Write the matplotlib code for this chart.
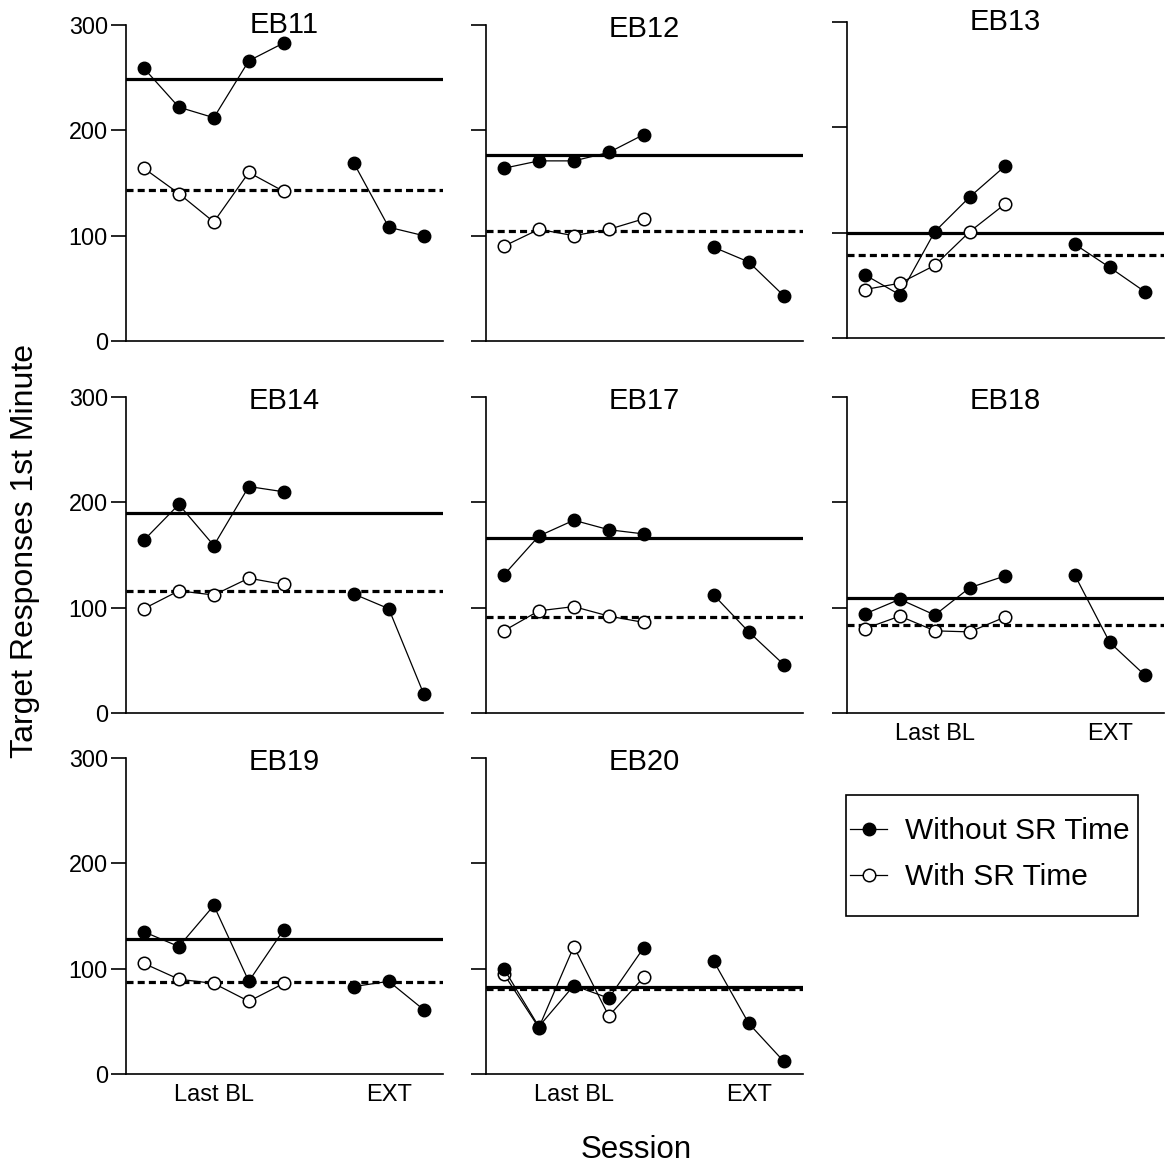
import matplotlib
matplotlib.use('Agg')
import matplotlib.pyplot as plt
from matplotlib.lines import Line2D
from matplotlib.patches import Rectangle

plt.rcParams['font.family'] = ['Liberation Sans', 'DejaVu Sans']

# ---------------- data ----------------
subjects = ['EB11', 'EB12', 'EB13', 'EB14', 'EB17', 'EB18', 'EB19', 'EB20']
bl_sessions = [1, 2, 3, 4, 5]
ext_sessions = [7, 8, 9]
x_tick_pos = [3, 8]
x_tick_labels = ['Last BL', 'EXT']
y_ticks = [0, 100, 200, 300]

without_bl = [
    [259, 222, 212, 266, 283],
    [164, 171, 171, 179, 196],
    [60, 41, 101, 134, 163],
    [164, 198, 159, 215, 210],
    [131, 168, 183, 174, 170],
    [94, 108, 93, 119, 130],
    [135, 121, 160, 88, 137],
    [100, 45, 84, 72, 120],
]
with_bl = [
    [164, 140, 113, 160, 142],
    [90, 106, 100, 106, 116],
    [46, 52, 69, 101, 127],
    [99, 116, 112, 128, 122],
    [78, 97, 101, 92, 86],
    [80, 92, 78, 77, 91],
    [105, 90, 86, 69, 86],
    [95, 44, 121, 55, 92],
]
without_ext = [
    [169, 108, 100],
    [89, 75, 43],
    [89, 67, 44],
    [113, 99, 18],
    [112, 77, 46],
    [131, 67, 36],
    [83, 88, 61],
    [107, 48, 12],
]
mean_without = [249, 177, 100, 190, 166, 109, 128, 83]
mean_with = [143, 104, 79, 116, 91, 84, 87, 81]

legend_labels = ['Without SR Time', 'With SR Time']

# ---------------- layout ----------------
W = H = 1167
fig = plt.figure(figsize=(W / 100, H / 100), dpi=100)

lefts_px = [126, 486, 847]
zero_px = [341, 713, 1074]
ax_w, ax_h = 317, 316
black_on_top = {'EB20'}
bottom_row = {'EB18', 'EB19', 'EB20'}
high_title = {'EB11', 'EB13'}

for i, name in enumerate(subjects):
    r, c = divmod(i, 3)
    zp = zero_px[r] - (3 if name == 'EB13' else 0)
    ax = fig.add_axes([lefts_px[c] / W, 1 - zp / H, ax_w / W, ax_h / H])
    ax.set_xlim(0.49, 9.55)
    ax.set_ylim(0, 300)
    for s in ['top', 'right']:
        ax.spines[s].set_visible(False)
    for s in ['left', 'bottom']:
        ax.spines[s].set_linewidth(1.2)

    ax.set_yticks(y_ticks)
    ax.tick_params(axis='y', length=11, width=1.2, direction='out', pad=2,
                   labelsize=16.8, labelleft=(c == 0))
    ax.set_xticks(x_tick_pos)
    ax.set_xticklabels(x_tick_labels)
    ax.tick_params(axis='x', length=0, pad=7, labelsize=17,
                   labelbottom=(name in bottom_row))

    ax.axhline(mean_without[i], color='k', lw=2.3, zorder=2)
    ax.axhline(mean_with[i], color='k', lw=2.3, ls=(0, (2.2, 1.3)), zorder=2)

    z_with, z_without = (3, 4) if name in black_on_top else (4, 3)
    ax.plot(bl_sessions, with_bl[i], marker='o', color='k', mfc='white',
            mec='k', ms=9, mew=1.1, lw=0.9, zorder=z_with, clip_on=False)
    ax.plot(bl_sessions, without_bl[i], marker='o', color='k', mfc='k',
            mec='k', ms=9, lw=0.9, zorder=z_without, clip_on=False)
    ax.plot(ext_sessions, without_ext[i], marker='o', color='k', mfc='k',
            mec='k', ms=9, lw=0.9, zorder=z_without, clip_on=False)

    ty = 0.975 if name in high_title else 0.962
    ax.text(0.5, ty, name, transform=ax.transAxes, ha='center',
            va='baseline', fontsize=21)

# axis titles
fig.text(25 / W, 1 - 551 / H, 'Target Responses 1st Minute', rotation=90,
         ha='center', va='center', fontsize=23)
fig.text(636 / W, 1 - 1150 / H, 'Session', ha='center', va='center',
         fontsize=22.5)

# legend
rect = Rectangle((846 / W, 1 - 916 / H), 292 / W, 121 / H,
                 transform=fig.transFigure, fill=False, edgecolor='k', lw=1.2)
fig.add_artist(rect)
handles = [
    Line2D([], [], color='k', marker='o', mfc='k', mec='k', ms=9, lw=0.9),
    Line2D([], [], color='k', marker='o', mfc='white', mec='k', ms=9,
           mew=1.1, lw=0.9),
]
fig.legend(handles, legend_labels, loc='center left',
           bbox_to_anchor=(850 / W, 1 - 854 / H), frameon=False, fontsize=21.5,
           handlelength=1.25, handletextpad=0.6, labelspacing=0.6,
           borderpad=0, borderaxespad=0)

fig.savefig('out.png', dpi=100)
